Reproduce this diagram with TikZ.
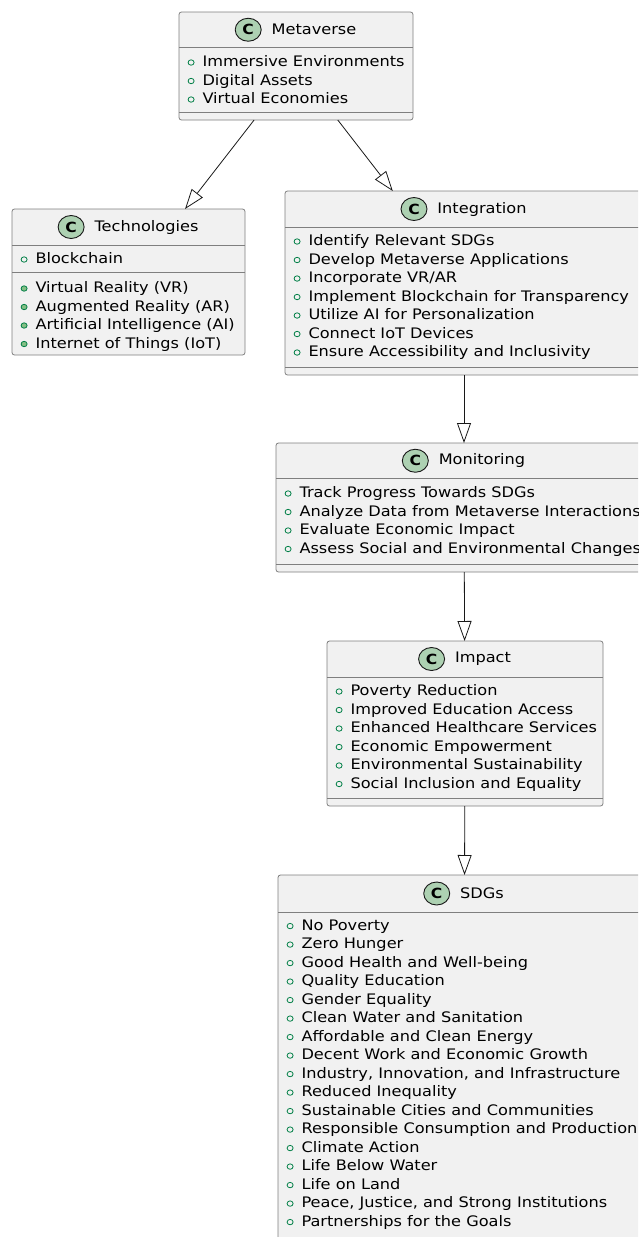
\documentclass[tikz,border=0pt]{standalone}
\usepackage{fontspec}
\setmainfont{DejaVu Sans}[FakeStretch=1.115]
\usetikzlibrary{arrows.meta, positioning, shapes.geometric}

\definecolor{boxfill}{HTML}{F1F1F1}
\definecolor{boxline}{HTML}{7F7F7F}
\definecolor{iconfill}{HTML}{ADD1B2}
\definecolor{fieldgreen}{HTML}{038048}
\definecolor{methodgreen}{HTML}{84BE84}
\definecolor{linkcol}{HTML}{181818}

\newcommand{\fieldmark}{\tikz[baseline=-4.2pt]\draw[fieldgreen, line width=0.8pt] (0,0) ellipse [x radius=3pt, y radius=2.7pt];\hspace{8pt}}
\newcommand{\methodmark}{\tikz[baseline=-4.2pt]\draw[fieldgreen, fill=methodgreen, line width=0.8pt] (0,0) ellipse [x radius=3pt, y radius=2.7pt];\hspace{8pt}}

\begin{document}
\begin{tikzpicture}[
    x=1pt, y=-1pt,
    classbox/.style = {rectangle, draw=boxline, fill=boxfill, line width=0.8pt, rounded corners=2.5pt, inner sep=0pt, outer sep=0pt, anchor=north west},
    classicon/.style = {ellipse, draw=linkcol, fill=iconfill, line width=0.9pt, minimum width=26pt, minimum height=23pt, inner sep=0pt, font=\fontsize{14}{14}\selectfont\bfseries},
    classname/.style = {inner sep=0pt, outer sep=0pt, font=\fontsize{14.5}{18.5}\selectfont},
    memberlist/.style = {anchor=north west, align=left, inner sep=0pt, font=\fontsize{14.5}{18.5}\selectfont},
    sepline/.style = {draw=boxline, line width=0.8pt},
    extends/.style = {draw=linkcol, line width=0.8pt, -{Triangle[open, length=20pt, width=14pt]}}
]
\useasboundingbox (0,0) rectangle (638,1237);
\clip (0,0) rectangle (638,1237);

% Metaverse
\node (meta) [classbox, minimum width=234pt, minimum height=108pt] at (179,12) {};
\node (metaT) [classname] at ([xshift=18pt, yshift=-17.75pt]meta.north) {Metaverse};
\node (metaC) [classicon, left=10pt of metaT] {C};
\draw [sepline] ([yshift=-35.5pt]meta.north west) -- ([yshift=-35.5pt]meta.north east);
\node (metaM) [memberlist] at ([xshift=8.5pt, yshift=-43.5pt]meta.north west) {
\fieldmark Immersive Environments\\
\fieldmark Digital Assets\\
\fieldmark Virtual Economies};
\draw [sepline] ([yshift=8pt]meta.south west) -- ([yshift=8pt]meta.south east);

% Technologies
\node (tech) [classbox, minimum width=233pt, minimum height=146pt] at (12,209) {};
\node (techT) [classname] at ([xshift=18pt, yshift=-18pt]tech.north) {Technologies};
\node (techC) [classicon, left=10pt of techT] {C};
\draw [sepline] ([yshift=-36pt]tech.north west) -- ([yshift=-36pt]tech.north east);
\node (techF) [memberlist] at ([xshift=8.5pt, yshift=-43.5pt]tech.north west) {\fieldmark Blockchain};
\draw [sepline] ([yshift=-63pt]tech.north west) -- ([yshift=-63pt]tech.north east);
\node (techM) [memberlist] at ([xshift=8.5pt, yshift=-72.5pt]tech.north west) {
\methodmark Virtual Reality (VR)\\
\methodmark Augmented Reality (AR)\\
\methodmark Artificial Intelligence (AI)\\
\methodmark Internet of Things (IoT)};

% Integration
\node (integ) [classbox, minimum width=358pt, minimum height=184pt] at (285,191) {};
\node (integT) [classname] at ([xshift=18pt, yshift=-18pt]integ.north) {Integration};
\node (integC) [classicon, left=10pt of integT] {C};
\draw [sepline] ([yshift=-36pt]integ.north west) -- ([yshift=-36pt]integ.north east);
\node (integM) [memberlist] at ([xshift=8.5pt, yshift=-43.5pt]integ.north west) {
\fieldmark Identify Relevant SDGs\\
\fieldmark Develop Metaverse Applications\\
\fieldmark Incorporate VR/AR\\
\fieldmark Implement Blockchain for Transparency\\
\fieldmark Utilize AI for Personalization\\
\fieldmark Connect IoT Devices\\
\fieldmark Ensure Accessibility and Inclusivity};
\draw [sepline] ([yshift=8pt]integ.south west) -- ([yshift=8pt]integ.south east);

% Monitoring
\node (monit) [classbox, minimum width=376pt, minimum height=129pt] at (276,443) {};
\node (monitT) [classname] at ([xshift=18pt, yshift=-17.75pt]monit.north) {Monitoring};
\node (monitC) [classicon, left=10pt of monitT] {C};
\draw [sepline] ([yshift=-35.5pt]monit.north west) -- ([yshift=-35.5pt]monit.north east);
\node (monitM) [memberlist] at ([xshift=8.5pt, yshift=-43.5pt]monit.north west) {
\fieldmark Track Progress Towards SDGs\\
\fieldmark Analyze Data from Metaverse Interactions\\
\fieldmark Evaluate Economic Impact\\
\fieldmark Assess Social and Environmental Changes};
\draw [sepline] ([yshift=8pt]monit.south west) -- ([yshift=8pt]monit.south east);

% Impact
\node (impact) [classbox, minimum width=276pt, minimum height=165pt] at (327,641) {};
\node (impactT) [classname] at ([xshift=18pt, yshift=-18pt]impact.north) {Impact};
\node (impactC) [classicon, left=10pt of impactT] {C};
\draw [sepline] ([yshift=-36pt]impact.north west) -- ([yshift=-36pt]impact.north east);
\node (impactM) [memberlist] at ([xshift=8.5pt, yshift=-43.5pt]impact.north west) {
\fieldmark Poverty Reduction\\
\fieldmark Improved Education Access\\
\fieldmark Enhanced Healthcare Services\\
\fieldmark Economic Empowerment\\
\fieldmark Environmental Sustainability\\
\fieldmark Social Inclusion and Equality};
\draw [sepline] ([yshift=8pt]impact.south west) -- ([yshift=8pt]impact.south east);

% SDGs
\node (sdgs) [classbox, minimum width=372pt, minimum height=370pt] at (278,875) {};
\node (sdgsT) [classname] at ([xshift=18pt, yshift=-18.5pt]sdgs.north) {SDGs};
\node (sdgsC) [classicon, left=10pt of sdgsT] {C};
\draw [sepline] ([yshift=-37pt]sdgs.north west) -- ([yshift=-37pt]sdgs.north east);
\node (sdgsM) [memberlist] at ([xshift=8.5pt, yshift=-44.5pt]sdgs.north west) {
\fieldmark No Poverty\\
\fieldmark Zero Hunger\\
\fieldmark Good Health and Well-being\\
\fieldmark Quality Education\\
\fieldmark Gender Equality\\
\fieldmark Clean Water and Sanitation\\
\fieldmark Affordable and Clean Energy\\
\fieldmark Decent Work and Economic Growth\\
\fieldmark Industry, Innovation, and Infrastructure\\
\fieldmark Reduced Inequality\\
\fieldmark Sustainable Cities and Communities\\
\fieldmark Responsible Consumption and Production\\
\fieldmark Climate Action\\
\fieldmark Life Below Water\\
\fieldmark Life on Land\\
\fieldmark Peace, Justice, and Strong Institutions\\
\fieldmark Partnerships for the Goals};
\draw [sepline] ([yshift=8pt]sdgs.south west) -- ([yshift=8pt]sdgs.south east);

\draw [extends] (meta) -- (tech);
\draw [extends] (meta) -- (integ);
\draw [extends] (integ) -- (monit);
\draw [extends] (monit) -- (impact);
\draw [extends] (impact) -- (sdgs);

\end{tikzpicture}
\end{document}
